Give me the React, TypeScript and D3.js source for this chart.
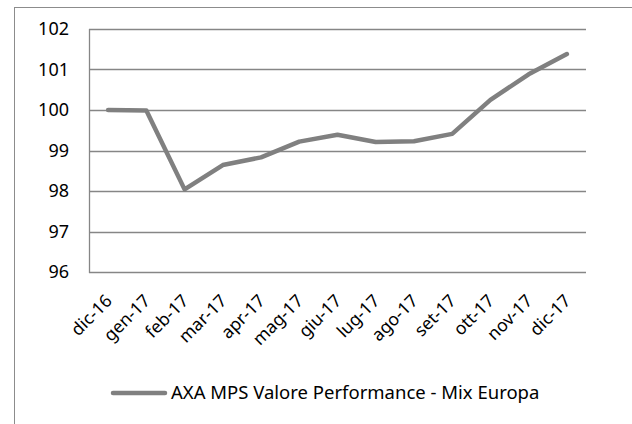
import * as d3 from "d3";

const categories = [
  "dic-16", "gen-17", "feb-17", "mar-17", "apr-17", "mag-17", "giu-17",
  "lug-17", "ago-17", "set-17", "ott-17", "nov-17", "dic-17",
];
const values = [
  100.0, 99.99, 98.04, 98.64, 98.83, 99.22, 99.39, 99.21, 99.23, 99.41,
  100.25, 100.88, 101.38,
];
const yTicks = [96, 97, 98, 99, 100, 101, 102];
const seriesName = "AXA MPS Valore Performance - Mix Europa";

const W = 632;
const H = 424;
const plot = { left: 89, right: 586, top: 29, bottom: 272 };
const font = "'Noto Sans', 'Open Sans', sans-serif";
const gridColor = "#868686";
const lineColor = "#808080";

export default function App() {
  const x = d3
    .scaleBand<string>()
    .domain(categories)
    .range([plot.left, plot.right]);
  const y = d3.scaleLinear().domain([96, 102]).range([plot.bottom, plot.top]);

  const cx = (c: string) => (x(c) ?? 0) + x.bandwidth() / 2;

  const line = d3
    .line<number>()
    .x((_, i) => cx(categories[i]))
    .y((d) => y(d));

  return (
    <svg
      width={W}
      height={H}
      style={{ position: "absolute", left: 0, top: 0, background: "#fff" }}
    >
      {/* chart border */}
      <rect
        x={14.5}
        y={7.5}
        width={W + 20}
        height={H + 20}
        fill="none"
        stroke="#8c8c8c"
        strokeWidth={1}
      />

      {/* gridlines */}
      {yTicks.map((t) => (
        <line
          key={t}
          x1={plot.left}
          x2={plot.right}
          y1={Math.round(y(t)) + 0.5}
          y2={Math.round(y(t)) + 0.5}
          stroke={gridColor}
          strokeWidth={1.3}
        />
      ))}
      <line
        x1={plot.left + 0.5}
        x2={plot.left + 0.5}
        y1={plot.top}
        y2={plot.bottom + 1}
        stroke={gridColor}
        strokeWidth={1.3}
      />

      {/* y tick labels */}
      {yTicks.map((t) => (
        <text
          key={t}
          x={69}
          y={y(t)}
          dy="0.35em"
          textAnchor="end"
          fontFamily={font}
          fontSize={18}
          fill="#000"
        >
          {t}
        </text>
      ))}

      {/* x tick labels */}
      {categories.map((c) => (
        <text
          key={c}
          transform={`translate(${cx(c) + 5},${plot.bottom + 30}) rotate(-45)`}
          textAnchor="end"
          fontFamily={font}
          fontSize={17.5}
          fill="#000"
        >
          {c}
        </text>
      ))}

      {/* series */}
      <path
        d={line(values) ?? ""}
        fill="none"
        stroke={lineColor}
        strokeWidth={4.5}
        strokeLinejoin="round"
        strokeLinecap="round"
      />

      {/* legend */}
      <line
        x1={113}
        x2={165}
        y1={393}
        y2={393}
        stroke={lineColor}
        strokeWidth={4.5}
        strokeLinecap="round"
      />
      <text
        x={171}
        y={393}
        dy="0.35em"
        fontFamily={font}
        fontSize={18.5}
        fill="#000"
      >
        {seriesName}
      </text>
    </svg>
  );
}
